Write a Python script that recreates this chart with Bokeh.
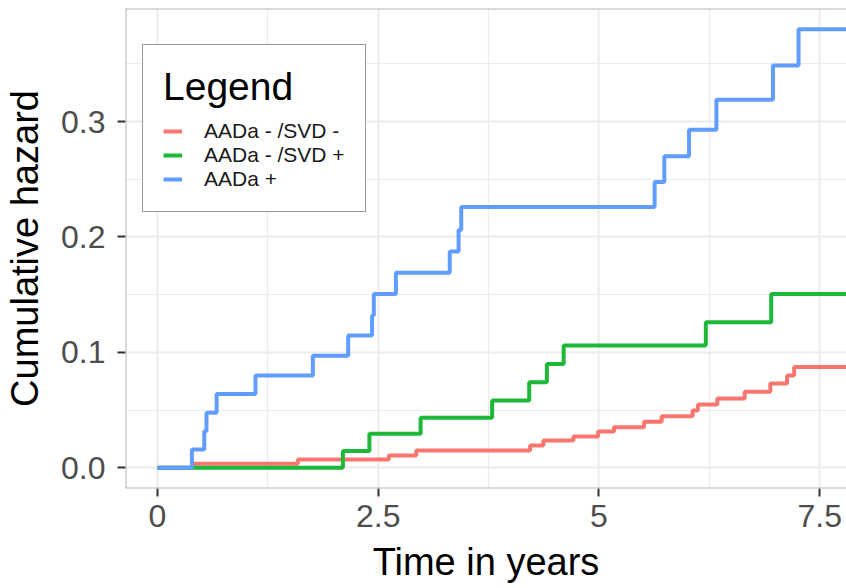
from bokeh.plotting import figure
from bokeh.models import FixedTicker, Range1d, Span, Legend, LegendItem
from bokeh.embed import file_html
from bokeh.resources import INLINE

# ---- data ----
series_names = ["AADa - /SVD -", "AADa - /SVD +", "AADa +"]
series_colors = ["#F8766D", "#1DB838", "#619CFF"]

t_neg_neg = [0, 0.41, 1.59, 2.62, 2.93, 4.22, 4.37, 4.71, 4.99, 5.17, 5.51, 5.71,
             6.06, 6.12, 6.34, 6.65, 6.94, 7.13, 7.21, 8.0]
h_neg_neg = [0, 0.0035, 0.0072, 0.0107, 0.015, 0.0193, 0.0236, 0.027, 0.0314, 0.035,
             0.0398, 0.0447, 0.0496, 0.0548, 0.060, 0.0658, 0.073, 0.080, 0.0874, 0.0874]

t_neg_pos = [0, 2.10, 2.40, 2.98, 3.79, 4.21, 4.41, 4.60, 6.21, 6.95, 8.0]
h_neg_pos = [0, 0.0144, 0.0294, 0.0433, 0.0583, 0.0741, 0.090, 0.1059, 0.126, 0.1506, 0.1506]

t_pos = [0, 0.39, 0.53, 0.555, 0.67, 1.11, 1.76, 2.16, 2.43, 2.45, 2.70, 3.31, 3.41,
         3.44, 5.63, 5.74, 6.02, 6.33, 6.97, 7.26, 8.0]
h_pos = [0, 0.0158, 0.0317, 0.0476, 0.064, 0.080, 0.097, 0.1145, 0.132, 0.1506, 0.169,
         0.1875, 0.206, 0.226, 0.2476, 0.270, 0.293, 0.319, 0.3486, 0.380, 0.380]

x_ticks = [0, 2.5, 5, 7.5]
x_tick_labels = ["0", "2.5", "5", "7.5"]
x_minor = [1.25, 3.75, 6.25]
y_ticks = [0, 0.1, 0.2, 0.3]
y_tick_labels = ["0.0", "0.1", "0.2", "0.3"]
y_minor = [0.05, 0.15, 0.25, 0.35]

x_title = "Time in years"
y_title = "Cumulative hazard"
legend_title = "Legend"

# ---- figure ----
p = figure(width=846, height=588, output_backend="svg", toolbar_location=None,
           x_range=Range1d(-0.362, 7.803), y_range=Range1d(-0.018, 0.398),
           min_border_left=125, min_border_right=0, min_border_top=8,
           min_border_bottom=100)
p.background_fill_color = "white"
p.border_fill_color = "white"
p.outline_line_color = None

renderers = []
for t, h, c in [(t_neg_neg, h_neg_neg, series_colors[0]),
                (t_neg_pos, h_neg_pos, series_colors[1]),
                (t_pos, h_pos, series_colors[2])]:
    r = p.step(t, h, mode="after", line_color=c, line_width=4)
    renderers.append(r)

# grids
p.xgrid.ticker = FixedTicker(ticks=x_ticks, minor_ticks=x_minor)
p.ygrid.ticker = FixedTicker(ticks=y_ticks, minor_ticks=y_minor)
for g in (p.xgrid, p.ygrid):
    g.grid_line_color = "#EBEBEB"
    g.grid_line_width = 2
    g.minor_grid_line_color = "#EBEBEB"
    g.minor_grid_line_width = 1.2

# axes
p.xaxis.ticker = FixedTicker(ticks=x_ticks)
p.yaxis.ticker = FixedTicker(ticks=y_ticks)
p.xaxis.major_label_overrides = {v: s for v, s in zip(x_ticks, x_tick_labels)}
p.yaxis.major_label_overrides = {v: s for v, s in zip(y_ticks, y_tick_labels)}
p.xaxis.axis_label = x_title
p.yaxis.axis_label = y_title
for ax in (p.xaxis, p.yaxis):
    ax.axis_line_color = None
    ax.minor_tick_line_color = None
    ax.major_tick_in = 0
    ax.major_tick_out = 8
    ax.major_tick_line_color = "#333333"
    ax.major_tick_line_width = 2
    ax.major_label_text_font = "Liberation Sans"
    ax.major_label_text_font_size = "32px"
    ax.major_label_text_color = "#4D4D4D"
    ax.axis_label_text_font = "Liberation Sans"
    ax.axis_label_text_font_size = "38px"
    ax.axis_label_text_font_style = "normal"
    ax.axis_label_text_color = "black"
p.yaxis.major_label_standoff = 12
p.xaxis.major_label_standoff = 8
p.yaxis.axis_label_standoff = 12
p.xaxis.axis_label_standoff = 11

# panel border (left, top, bottom)
for loc, dim in [(-0.362, "height"), (-0.018, "width"), (0.398, "width")]:
    p.add_layout(Span(location=loc, dimension=dim, line_color="#B3B3B3", line_width=2))

# legend
items = [LegendItem(label=n, renderers=[r]) for n, r in zip(series_names, renderers)]
legend = Legend(items=items, location=(17, 276), title=legend_title)
legend.title_text_font = "Liberation Sans"
legend.title_text_font_size = "39px"
legend.title_text_font_style = "normal"
legend.title_text_color = "black"
legend.title_standoff = 10
legend.label_text_font = "Liberation Sans"
legend.label_text_font_size = "21px"
legend.label_text_color = "#1A1A1A"
legend.label_standoff = 22
legend.glyph_width = 19
legend.glyph_height = 20
legend.label_height = 20
legend.spacing = 0
legend.padding = 20
legend.margin = 0
legend.border_line_color = "#333333"
legend.border_line_width = 1.5
legend.background_fill_color = "white"
legend.background_fill_alpha = 1
p.add_layout(legend)

open("out.html", "w").write(file_html(p, INLINE))
